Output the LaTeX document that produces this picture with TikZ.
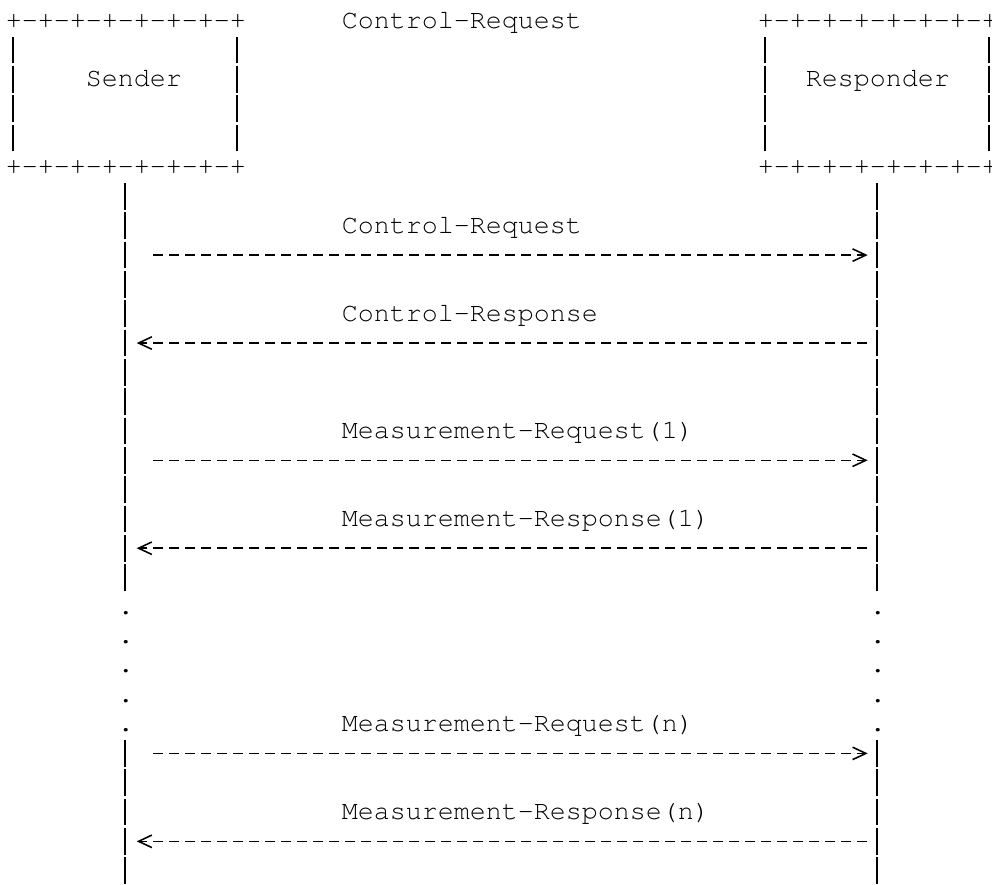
\documentclass[tikz,border=0pt]{standalone}
\usepackage[T1]{fontenc}
\usepackage{courier}
\usetikzlibrary{arrows.meta}

\begin{document}
\begin{tikzpicture}[
            x = 7.2pt, % one character column
            y = -13.19pt, % one text row, counted downwards
            font = \ttfamily\fontsize{12}{13}\selectfont,
            > = {Straight Barb[length=6pt, width=5.6pt]}, % arrow head style
            line width = 0.7pt
        ]

        \tikzstyle{glyph}=[
            inner sep = 0pt,
            anchor = base west
        ]
        \tikzstyle{bar}=[dash pattern = on 11.98pt off 1.21pt]
        \tikzstyle{msg}=[dash pattern = on 4.61pt off 2.59pt]

        \useasboundingbox (-0.3125,-0.703) rectangle (61.6875,29.49);

        % the two boxes
        \node[glyph] (stop) at (0,0.256) {+-+-+-+-+-+-+-+};
        \node[glyph] (sbot) at (0,5.256) {+-+-+-+-+-+-+-+};
        \node[glyph] (rtop) at (47,0.256) {+-+-+-+-+-+-+-+};
        \node[glyph] (rbot) at (47,5.256) {+-+-+-+-+-+-+-+};
        \node[glyph] (sender) at (5,2.256) {Sender};
        \node[glyph] (responder) at (50,2.256) {Responder};
        \node[glyph] (title) at (21,0.256) {Control-Request};

        \foreach \c in {0.5, 14.5, 47.5, 61.5}
            \draw[bar] (\c,0.546) -- (\c,4.454);

        % lifelines
        \coordinate (sA) at (7.5,5.546);
        \coordinate (sB) at (7.5,19.454);
        \coordinate (sC) at (7.5,24.546);
        \coordinate (sD) at (7.5,29.454);
        \coordinate (rA) at (54.5,5.546);
        \coordinate (rB) at (54.5,19.454);
        \coordinate (rC) at (54.5,24.546);
        \coordinate (rD) at (54.5,29.454);

        \draw[bar] (sA) -- (sB);
        \draw[bar] (sC) -- (sD);
        \draw[bar] (rA) -- (rB);
        \draw[bar] (rC) -- (rD);

        \foreach \r in {20,...,24} {
            \node[glyph] (sdot\r) at (7,\r+0.256) {.};
            \node[glyph] (rdot\r) at (54,\r+0.256) {.};
        }

        % messages
        \node[glyph] (creq) at (21,7.256) {Control-Request};
        \node[glyph] (cres) at (21,10.256) {Control-Response};
        \node[glyph] (mreq1) at (21,14.256) {Measurement-Request(1)};
        \node[glyph] (mres1) at (21,17.256) {Measurement-Response(1)};
        \node[glyph] (mreqn) at (21,24.256) {Measurement-Request(n)};
        \node[glyph] (mresn) at (21,27.256) {Measurement-Response(n)};

        \foreach \r in {8,15,25} {
            \coordinate (out\r) at (9.26,\r);
            \coordinate (in\r) at (53.92,\r);
            \draw[msg, -{> .}] (out\r) -- (in\r);
        }
        \foreach \r in {11,18,28} {
            \coordinate (out\r) at (53.9,\r);
            \coordinate (in\r) at (8.23,\r);
            \draw[msg, -{> .}] (out\r) -- (in\r);
        }

\end{tikzpicture}
\end{document}
